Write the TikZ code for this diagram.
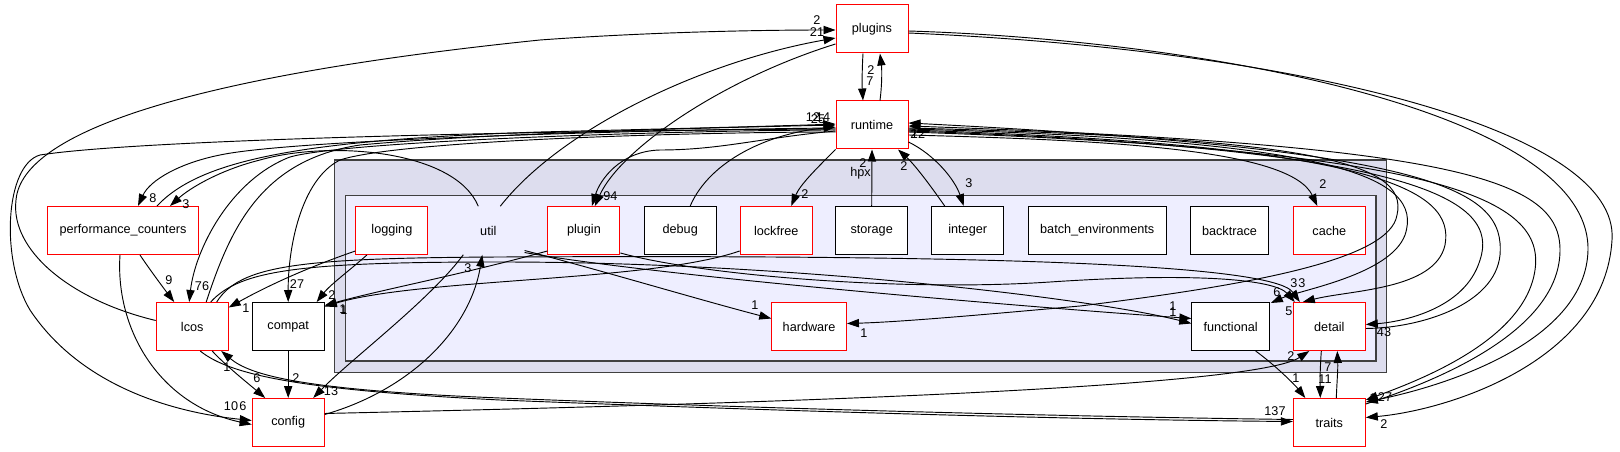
\documentclass[tikz,border=0pt]{standalone}
\usepackage{fontspec}
\setmainfont{Liberation Sans}
\usetikzlibrary{arrows.meta,calc}
\definecolor{outerfill}{HTML}{DDDDEE}
\definecolor{innerfill}{HTML}{EEEEFF}
\definecolor{clusterline}{HTML}{404040}
\tikzset{
  dirbox/.style={draw=red,fill=white,line width=0.75pt,minimum width=54pt,
    minimum height=36pt,inner sep=0pt,font=\fontsize{9.5}{11}\selectfont},
  dirplain/.style={dirbox,draw=black},
  dirtext/.style={minimum width=54pt,minimum height=36pt,inner sep=0pt,
    font=\fontsize{9.5}{11}\selectfont},
  cnt/.style={inner sep=0pt,font=\fontsize{9.5}{11}\selectfont},
  dep/.style={-{Triangle[length=9pt,width=6.2pt]},line width=0.7pt},
}
\begin{document}
\begin{tikzpicture}[x=0.75pt,y=-0.75pt]
  \useasboundingbox (0,0) rectangle (1620,452);
  % clusters
  \draw[line width=1.1pt,draw=clusterline,fill=outerfill] (334.7,160) rectangle (1386.5,372.3);
  \draw[line width=1.1pt,draw=clusterline,fill=innerfill] (345.4,195.7) rectangle (1376.1,361);
  \node[cnt] (hpx) at (860.6,173) {hpx};

  % directories
  \node[dirbox] (plugins) at (872,29) {plugins};
  \node[dirbox] (runtime) at (872,125) {runtime};
  \node[dirbox,minimum width=113.6pt] (pc) at (123,230.5) {performance\_counters};
  \node[dirbox] (logging) at (391.9,230.5) {logging};
  \node[dirtext] (util) at (488.3,230.5) {util};
  \node[dirbox] (plugin) at (583.9,230.5) {plugin};
  \node[dirplain] (debug) at (680.2,230.5) {debug};
  \node[dirbox] (lockfree) at (776.2,230.5) {lockfree};
  \node[dirplain] (storage) at (871.7,230.5) {storage};
  \node[dirplain] (integer) at (967.7,230.5) {integer};
  \node[dirplain,minimum width=103.4pt] (batch) at (1097.2,230.5) {batch\_environments};
  \node[dirplain,minimum width=58.9pt] (backtrace) at (1229.5,230.5) {backtrace};
  \node[dirbox] (cache) at (1329.3,230.5) {cache};
  \node[dirbox] (lcos) at (192.2,326.5) {lcos};
  \node[dirplain] (compat) at (288.2,326.5) {compat};
  \node[dirbox,minimum width=56pt] (hardware) at (809.1,326.5) {hardware};
  \node[dirplain,minimum width=58.1pt] (functional) at (1230.6,326.5) {functional};
  \node[dirbox] (detail) at (1329.3,326.5) {detail};
  \node[dirbox] (config) at (288.2,422.5) {config};
  \node[dirbox] (traits) at (1329.3,422.5) {traits};

  \begin{scope}[dep]
    % plugins / runtime
    \draw ($(plugins.south)+(-9,0)$) .. controls (862,70) and (862,85) .. ($(runtime.north)+(-9,0)$);
    \draw ($(runtime.north)+(8,0)$) .. controls (882,85) and (882,70) .. ($(plugins.south)+(8,0)$);
    \draw ($(lcos.west)+(0,-6)$) .. controls (70,300) and (10,250) .. (16,200)
      .. controls (22,130) and (200,75) .. (540,40) .. controls (650,32) and (760,30) .. ($(plugins.west)+(0,1)$);
    \draw ($(util.north)+(12,0)$) .. controls (560,130) and (700,62) .. ($(plugins.west)+(0,9)$);
    \draw ($(plugins.west)+(0,15)$) .. controls (720,80) and (620,150) .. ($(plugin.north)+(11,0)$);
    % left of runtime
    \draw ($(runtime.west)+(0,4)$) .. controls (600,130) and (150,138) .. (40,155)
      .. controls (5,165) and (0,260) .. (30,310) .. controls (80,385) and (170,412) .. ($(config.west)+(0,-2)$);
    \draw ($(pc.south)+(-3,0)$) .. controls (115,330) and (160,405) .. ($(config.west)+(0,2)$);
    \draw ($(runtime.west)+(0,6)$) .. controls (760,138) and (720,150) .. (660,150)
      .. controls (620,151) and (600,180) .. ($(plugin.north)+(8,0)$);
    \draw ($(debug.north)+(10,0)$) .. controls (710,160) and (770,133) .. ($(runtime.west)+(0,2)$);
    \draw ($(pc.north)+(34,0)$) .. controls (200,160) and (300,140) .. (540,132)
      .. controls (700,128) and (780,126) .. ($(runtime.west)+(0,-1)$);
    \draw ($(runtime.west)+(0,3)$) .. controls (700,129) and (300,138) .. (220,155)
      .. controls (180,163) and (150,180) .. ($(pc.north)+(15,0)$);
    \draw ($(util.north)+(-10,0)$) .. controls (455,150) and (330,140) .. (260,160)
      .. controls (220,170) and (190,188) .. ($(pc.north)+(47,0)$);
    \draw ($(lcos.north)+(14,0)$) .. controls (230,230) and (260,160) .. (360,145)
      .. controls (500,132) and (750,127) .. (runtime.west);
    \draw ($(runtime.west)+(0,5)$) .. controls (700,130) and (350,140) .. (290,157)
      .. controls (230,180) and (195,250) .. ($(lcos.north)+(-3,0)$);
    \draw ($(runtime.west)+(0,7)$) .. controls (700,132) and (400,140) .. (340,160)
      .. controls (300,180) and (288,250) .. (compat.north);
    % below runtime
    \draw (runtime.south west) .. controls (815,170) and (800,185) .. ($(lockfree.north)+(15,0)$);
    \draw (storage.north) -- (runtime.south);
    \draw ($(integer.north)+(-23,0)$) .. controls (930,185) and (915,165) .. ($(runtime.south)+(26,0)$);
    \draw ($(runtime.east)+(0,17)$) .. controls (935,155) and (955,180) .. ($(integer.north)+(-4,0)$);
    \draw ($(runtime.east)+(0,10)$) .. controls (1100,140) and (1290,148) .. ($(cache.north)+(-12,0)$);
    % right of runtime
    \draw ($(runtime.east)+(0,3)$) .. controls (1300,138) and (1410,160) .. (1397,215)
      .. controls (1390,260) and (1250,285) .. (1080,306) .. controls (980,315) and (900,322) .. ($(hardware.east)+(0,-3)$);
    \draw ($(runtime.east)+(0,4)$) .. controls (1330,140) and (1425,175) .. (1405,235)
      .. controls (1390,275) and (1300,290) .. ($(functional.north east)+(1,1)$);
    \draw ($(runtime.east)+(0,5)$) .. controls (1380,145) and (1455,190) .. (1445,245)
      .. controls (1435,290) and (1350,290) .. ($(detail.north west)+(10,0)$);
    \draw ($(runtime.east)+(0,6)$) .. controls (1420,148) and (1500,200) .. (1480,260)
      .. controls (1465,310) and (1400,322) .. ($(detail.east)+(0,-2)$);
    \draw ($(detail.east)+(0,2)$) .. controls (1420,328) and (1495,305) .. (1500,255)
      .. controls (1505,190) and (1440,150) .. ($(runtime.east)+(0,-2)$);
    \draw ($(runtime.east)+(0,7)$) .. controls (1450,150) and (1545,200) .. (1535,270)
      .. controls (1525,340) and (1420,380) .. ($(traits.north east)+(0,2)$);
    \draw ($(traits.north east)+(0,6)$) .. controls (1440,380) and (1560,330) .. (1560,250)
      .. controls (1560,180) and (1460,145) .. ($(runtime.east)+(0,1)$);
    \draw ($(plugins.east)+(0,2)$) .. controls (1200,40) and (1590,110) .. (1588,250)
      .. controls (1586,340) and (1450,385) .. ($(traits.north east)+(0,4)$);
    \draw ($(plugins.east)+(0,4)$) .. controls (1300,50) and (1620,130) .. (1612,240)
      .. controls (1605,360) and (1450,410) .. ($(traits.east)+(0,-5)$);
    % detail / traits
    \draw ($(detail.south)+(-8,0)$) .. controls (1320,370) and (1320,380) .. ($(traits.north)+(-9,0)$);
    \draw ($(traits.north)+(7,0)$) .. controls (1337,380) and (1338,370) .. ($(detail.south)+(8,0)$);
    \draw ($(functional.south)+(25,0)$) .. controls (1275,365) and (1295,385) .. ($(traits.north)+(-24,0)$);
    \draw ($(config.east)+(0,-9)$) .. controls (700,405) and (1250,390) .. ($(detail.south)+(-20,0)$);
    \draw ($(lcos.south)+(8,0)$) .. controls (230,375) and (300,390) .. (500,400)
      .. controls (800,412) and (1100,420) .. ($(traits.west)+(0,-1)$);
    \draw ($(traits.west)+(0,-3)$) .. controls (1100,417) and (800,410) .. (500,398)
      .. controls (300,390) and (250,375) .. ($(lcos.south)+(29,0)$);
    % lower left
    \draw ($(lcos.south)+(20,0)$) .. controls (225,365) and (250,385) .. ($(config.north)+(-23,0)$);
    \draw (compat.south) -- (config.north);
    \draw ($(util.south)+(-25,0)$) .. controls (430,300) and (350,360) .. ($(config.north)+(25,0)$);
    \draw ($(config.east)+(0,-8)$) .. controls (410,390) and (470,330) .. ($(util.south)+(-6,0)$);
    \draw ($(pc.south)+(17,0)$) .. controls (150,270) and (165,290) .. ($(lcos.north)+(-18,0)$);
    \draw ($(logging.south west)+(0,-4)$) .. controls (300,270) and (260,290) .. ($(lcos.east)+(0,-19)$);
    \draw ($(logging.south)+(-25,0)$) .. controls (350,270) and (330,285) .. ($(compat.north east)+(-8,0)$);
    \draw ($(plugin.south west)+(0,-4)$) .. controls (460,275) and (380,290) .. ($(compat.east)+(0,-21)$);
    \draw ($(lockfree.south west)+(0,-4)$) .. controls (650,282) and (420,278) .. ($(compat.east)+(0,-20)$);
    % across the cluster
    \draw ($(util.east)+(0,20)$) .. controls (600,270) and (700,300) .. ($(hardware.west)+(0,-8)$);
    \draw ($(util.east)+(0,22)$) .. controls (650,275) and (1000,305) .. ($(functional.west)+(0,-8)$);
    \draw ($(lcos.north east)+(-18,0)$) .. controls (240,270) and (300,262) .. (500,262)
      .. controls (800,262) and (1100,300) .. ($(functional.west)+(0,-3)$);
    \draw ($(lcos.north east)+(-12,0)$) .. controls (240,265) and (300,258) .. (500,257)
      .. controls (900,255) and (1270,260) .. ($(detail.north west)+(7,0)$);
    \draw ($(plugin.south east)+(0,-2)$) .. controls (700,275) and (900,292) .. (1050,282)
      .. controls (1200,272) and (1275,280) .. ($(detail.north west)+(2,0)$);
  \end{scope}

  % include counts
  \node[cnt] (c1) at (870,81) {7};
  \node[cnt] (c2) at (871,70) {2};
  \node[cnt] (c3) at (817,20) {2};
  \node[cnt] (c4) at (817,32) {21};
  \node[cnt] (c5) at (614,196) {4};
  \node[cnt] (c6) at (607,196) {9};
  \node[cnt] (c7) at (813,117) {12};
  \node[cnt] (c8) at (818,119) {25};
  \node[cnt] (c9) at (823,117) {14};
  \node[cnt] (c10) at (231,406) {10};
  \node[cnt] (c11) at (243,406) {6};
  \node[cnt] (c12) at (153,198) {8};
  \node[cnt] (c13) at (186,204) {3};
  \node[cnt] (c14) at (202,286) {76};
  \node[cnt] (c15) at (297,284) {27};
  \node[cnt] (c16) at (805,194) {2};
  \node[cnt] (c17) at (863,163) {2};
  \node[cnt] (c18) at (904,166) {2};
  \node[cnt] (c19) at (969,183) {3};
  \node[cnt] (c20) at (1323,184) {2};
  \node[cnt] (c21) at (864,333) {1};
  \node[cnt] (c22) at (1277,292) {6};
  \node[cnt] (c23) at (1294,283) {3};
  \node[cnt] (c24) at (1302,283) {3};
  \node[cnt] (c25) at (1384,332) {43};
  \node[cnt] (c26) at (914,134) {2};
  \node[cnt] (c27) at (918,134) {12};
  \node[cnt] (c28) at (1373,398) {1};
  \node[cnt] (c29) at (1385,397) {27};
  \node[cnt] (c30) at (1384,424) {2};
  \node[cnt] (c31) at (1325,379) {11};
  \node[cnt] (c32) at (1328,367) {7};
  \node[cnt] (c33) at (1296,378) {1};
  \node[cnt] (c34) at (1291,356) {2};
  \node[cnt] (c35) at (1275,411) {137};
  \node[cnt] (c36) at (227,367) {1};
  \node[cnt] (c37) at (257,378) {6};
  \node[cnt] (c38) at (296,378) {2};
  \node[cnt] (c39) at (331,391) {13};
  \node[cnt] (c40) at (468,268) {3};
  \node[cnt] (c41) at (169,280) {9};
  \node[cnt] (c42) at (246,308) {1};
  \node[cnt] (c43) at (332,295) {2};
  \node[cnt] (c44) at (343,309) {1};
  \node[cnt] (c45) at (344,310) {1};
  \node[cnt] (c46) at (755,305) {1};
  \node[cnt] (c47) at (1173,306) {1};
  \node[cnt] (c48) at (1173,312) {1};
  \node[cnt] (c49) at (1289,311) {5};
\end{tikzpicture}
\end{document}
